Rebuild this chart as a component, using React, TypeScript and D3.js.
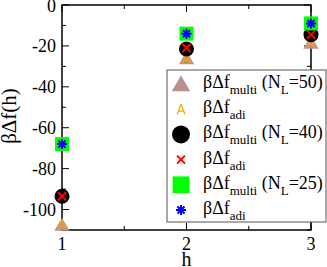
import React, { useEffect, useRef } from 'react';
import * as d3 from 'd3';

const hValues = [1, 2, 3];
const multi50 = [-107.5, -26, -18.5];
const adi50 = [-107.5, -26, -18];
const multi40 = [-93.5, -21.5, -14.5];
const adi40 = [-93.5, -21, -14.5];
const multi25 = [-68, -14, -9];
const adi25 = [-68, -14, -9];
const xTicks = [1, 2, 3];
const yTicks = [0, -20, -40, -60, -80, -100];

const legendRows = [
  { sym: 'tri', sub: 'multi', nl: '50' },
  { sym: 'otri', sub: 'adi', nl: '' },
  { sym: 'circ', sub: 'multi', nl: '40' },
  { sym: 'x', sub: 'adi', nl: '' },
  { sym: 'sq', sub: 'multi', nl: '25' },
  { sym: 'star', sub: 'adi', nl: '' },
];

const W = 327;
const H = 267;
const font = '"Liberation Serif", "Times New Roman", serif';

export default function App() {
  const ref = useRef<SVGSVGElement>(null);

  useEffect(() => {
    if (!ref.current) return;
    const svg = d3.select(ref.current);
    svg.selectAll('*').remove();

    const x = d3.scaleLinear().domain([1, 3]).range([62, 311]);
    const y = d3.scaleLinear().domain([-110, 0]).range([230, 5]);

    const drawSym = (g: any, sym: string, cx: number, cy: number, big: boolean) => {
      const k = big ? 1.2 : 1;
      if (sym === 'tri') {
        const s = 7 * k;
        g.append('path')
          .attr('d', `M${cx},${cy - s}L${cx + s * 1.1},${cy + s * 0.85}L${cx - s * 1.1},${cy + s * 0.85}Z`)
          .attr('fill', '#bc8f8f');
      } else if (sym === 'otri') {
        const s = 5;
        g.append('path')
          .attr('d', `M${cx},${cy - s}L${cx + s * 0.8},${cy + s}M${cx},${cy - s}L${cx - s * 0.8},${cy + s}M${cx - s * 0.45},${cy + 2}L${cx + s * 0.45},${cy + 2}`)
          .attr('fill', 'none')
          .attr('stroke', '#ffa500')
          .attr('stroke-width', 1.2);
      } else if (sym === 'circ') {
        g.append('circle').attr('cx', cx).attr('cy', cy).attr('r', 7.5 * k).attr('fill', '#000');
      } else if (sym === 'x') {
        const s = 4;
        g.append('path')
          .attr('d', `M${cx - s},${cy - s}L${cx + s},${cy + s}M${cx - s},${cy + s}L${cx + s},${cy - s}`)
          .attr('stroke', '#ff0000')
          .attr('stroke-width', 2);
      } else if (sym === 'sq') {
        const s = 7 * k;
        g.append('rect').attr('x', cx - s).attr('y', cy - s).attr('width', 2 * s).attr('height', 2 * s).attr('fill', '#00ff00');
      } else if (sym === 'star') {
        const s = 5;
        let d = '';
        for (let i = 0; i < 4; i++) {
          const a = (i * Math.PI) / 4;
          d += `M${cx - s * Math.cos(a)},${cy - s * Math.sin(a)}L${cx + s * Math.cos(a)},${cy + s * Math.sin(a)}`;
        }
        g.append('path').attr('d', d).attr('stroke', '#0000ff').attr('stroke-width', 2);
      }
    };

    // frame ticks
    const g = svg.append('g');
    const yMinor = d3.range(-110, 1, 10);
    const xMinor = [1.5, 2.5];
    yMinor.forEach((v) => {
      const major = v % 20 === 0;
      const len = major ? 7 : 4;
      g.append('line').attr('x1', 62).attr('x2', 62 + len).attr('y1', y(v)).attr('y2', y(v)).attr('stroke', '#000');
      g.append('line').attr('x1', 311).attr('x2', 311 - len).attr('y1', y(v)).attr('y2', y(v)).attr('stroke', '#000');
    });
    [...xTicks, ...xMinor].forEach((v) => {
      const len = xTicks.includes(v) ? 7 : 4;
      g.append('line').attr('x1', x(v)).attr('x2', x(v)).attr('y1', 230).attr('y2', 230 - len).attr('stroke', '#000');
      g.append('line').attr('x1', x(v)).attr('x2', x(v)).attr('y1', 5).attr('y2', 5 + len).attr('stroke', '#000');
    });
    g.append('rect').attr('x', 62).attr('y', 5).attr('width', 249).attr('height', 225)
      .attr('fill', 'none').attr('stroke', '#000').attr('stroke-width', 1.5);

    yTicks.forEach((v) => {
      g.append('text').attr('x', 56).attr('y', y(v) + 6.5).attr('text-anchor', 'end')
        .attr('font-family', font).attr('font-size', 18).text(v);
    });
    xTicks.forEach((v) => {
      g.append('text').attr('x', x(v)).attr('y', 250).attr('text-anchor', 'middle')
        .attr('font-family', font).attr('font-size', 18).text(v);
    });
    g.append('text').attr('x', x(2)).attr('y', 266).attr('text-anchor', 'middle')
      .attr('font-family', font).attr('font-size', 20).text('h');
    g.append('text').attr('transform', `translate(16,116) rotate(-90)`).attr('text-anchor', 'middle')
      .attr('font-family', font).attr('font-size', 21).text('βΔf(h)');

    // data
    const series: [string, number[]][] = [
      ['tri', multi50], ['otri', adi50], ['circ', multi40], ['x', adi40], ['sq', multi25], ['star', adi25],
    ];
    const dg = svg.append('g');
    series.forEach(([sym, vals]) => {
      vals.forEach((v, i) => drawSym(dg, sym, x(hValues[i]), y(v), false));
    });

    // legend
    const lg = svg.append('g');
    lg.append('rect').attr('x', 167).attr('y', 70).attr('width', 159).attr('height', 152)
      .attr('fill', '#fff').attr('stroke', '#555').attr('stroke-width', 1);
    legendRows.forEach((r, i) => {
      const cy = 84 + i * 25.2;
      drawSym(lg, r.sym, 181, cy, true);
      const t = lg.append('text').attr('x', 203).attr('y', cy + 4).attr('font-family', font).attr('font-size', 18);
      t.append('tspan').text('βΔf');
      t.append('tspan').attr('dy', 6).attr('font-size', 13).text(r.sub);
      if (r.nl) {
        t.append('tspan').attr('dy', -6).attr('font-size', 18).text(' (N');
        t.append('tspan').attr('dy', 6).attr('font-size', 13).text('L');
        t.append('tspan').attr('dy', -6).attr('font-size', 18).text('=' + r.nl + ')');
      }
    });
  }, []);

  return <svg ref={ref} width={W} height={H} style={{ position: 'absolute', left: 0, top: 0, background: '#fff' }} />;
}
